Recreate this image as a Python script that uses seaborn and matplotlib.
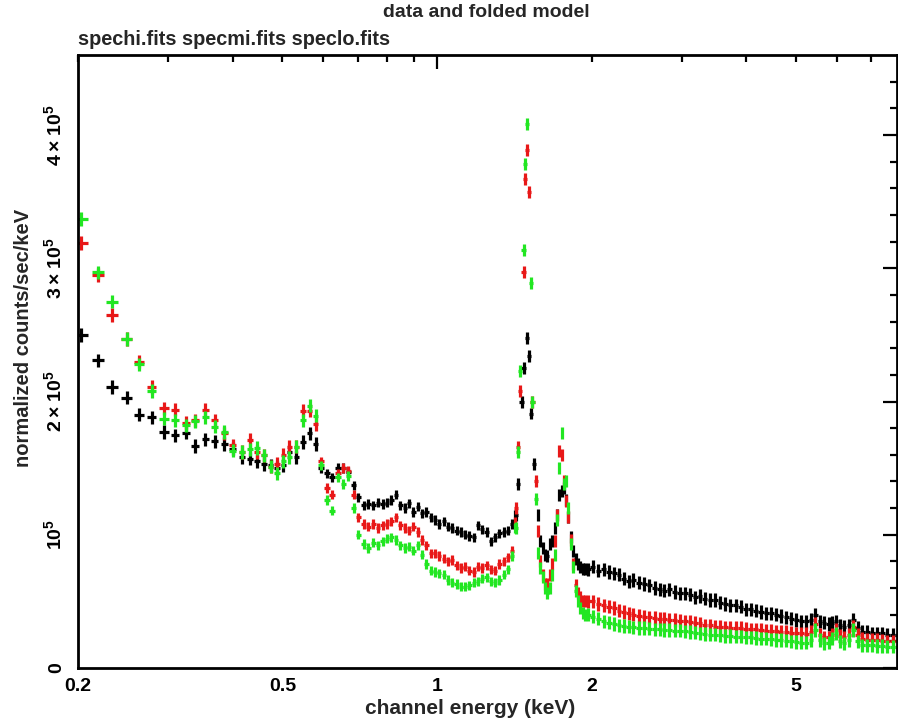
import numpy as np
import pandas as pd
import matplotlib
matplotlib.use("Agg")
import matplotlib.pyplot as plt
import seaborn as sns
from matplotlib.ticker import FixedLocator, FuncFormatter

# Values in units of 1e5 counts/sec/keV.
# spechi = black, specmi = red, speclo = green

# soft band, wide bins
E_SOFT = [0.203, 0.2185, 0.2326, 0.249, 0.263, 0.278, 0.294, 0.309, 0.324, 0.338,
          0.354, 0.369, 0.385, 0.400, 0.417, 0.432, 0.446, 0.460, 0.474, 0.488,
          0.502, 0.516, 0.532, 0.548, 0.565, 0.580]
HI_SOFT = [2.50, 2.31, 2.11, 2.03, 1.90, 1.88, 1.77, 1.745, 1.765, 1.665,
           1.715, 1.70, 1.68, 1.645, 1.58, 1.57, 1.55, 1.53, 1.52, 1.50,
           1.52, 1.62, 1.58, 1.695, 1.76, 1.68]
MI_SOFT = [3.19, 2.95, 2.65, 2.47, 2.30, 2.11, 1.95, 1.94, 1.84, 1.86,
           1.94, 1.86, 1.76, 1.67, 1.62, 1.71, 1.62, 1.595, 1.51, 1.53,
           1.60, 1.66, 1.66, 1.93, 1.93, 1.83]
LO_SOFT = [3.37, 2.97, 2.75, 2.47, 2.28, 2.08, 1.87, 1.86, 1.82, 1.85,
           1.88, 1.81, 1.77, 1.63, 1.62, 1.64, 1.65, 1.595, 1.51, 1.46,
           1.55, 1.58, 1.66, 1.86, 1.97, 1.895]

# 0.6 - 1.4 keV
E_MID = [0.594, 0.610, 0.625, 0.641, 0.657, 0.672, 0.688, 0.703, 0.719, 0.735,
         0.751, 0.767, 0.783, 0.799, 0.815, 0.831, 0.848, 0.865, 0.882, 0.899,
         0.917, 0.935, 0.953, 0.972, 0.991, 1.010, 1.030, 1.050, 1.070, 1.091,
         1.112, 1.134, 1.156, 1.178, 1.201, 1.224, 1.248, 1.272, 1.297, 1.322,
         1.348, 1.374, 1.400, 1.418]
HI_MID = [1.50, 1.46, 1.43, 1.50, 1.50, 1.47, 1.37, 1.28, 1.22, 1.23,
          1.22, 1.24, 1.23, 1.24, 1.26, 1.30, 1.22, 1.20, 1.235, 1.17,
          1.21, 1.16, 1.17, 1.13, 1.11, 1.08, 1.10, 1.06, 1.05, 1.03,
          1.02, 1.00, 0.99, 0.98, 1.07, 1.04, 1.02, 0.95, 0.98, 1.01,
          1.02, 1.03, 1.08, 1.15]
MI_MID = [1.55, 1.35, 1.30, 1.46, 1.50, 1.48, 1.30, 1.13, 1.08, 1.06,
          1.08, 1.05, 1.07, 1.08, 1.10, 1.13, 1.07, 1.05, 1.03, 1.06,
          1.02, 0.96, 0.92, 0.86, 0.86, 0.84, 0.82, 0.80, 0.81, 0.77,
          0.75, 0.76, 0.73, 0.72, 0.76, 0.75, 0.77, 0.74, 0.73, 0.78,
          0.80, 0.83, 0.88, 1.10]
LO_MID = [1.52, 1.26, 1.18, 1.43, 1.38, 1.44, 1.20, 1.00, 0.93, 0.90,
          0.94, 0.92, 0.95, 0.97, 0.98, 0.96, 0.92, 0.90, 0.91, 0.88,
          0.92, 0.85, 0.78, 0.73, 0.72, 0.71, 0.70, 0.66, 0.64, 0.63,
          0.61, 0.61, 0.62, 0.64, 0.65, 0.67, 0.68, 0.65, 0.64, 0.66,
          0.70, 0.74, 0.84, 1.05]

# Al K line
E_AL = [1.425, 1.437, 1.449, 1.461, 1.473, 1.485, 1.497, 1.509, 1.521, 1.533, 1.545, 1.557]
HI_AL = [1.15, 1.38, np.nan, 2.00, 2.25, np.nan, 2.48, 2.34, 1.91, np.nan, 1.53, np.nan]
MI_AL = [1.20, 1.66, 2.08, np.nan, 2.97, 3.67, 3.89, 3.57, np.nan, 2.00, np.nan, 1.40]
LO_AL = [1.05, 1.62, 2.23, np.nan, 3.14, 3.78, 4.08, np.nan, 2.89, 2.00, np.nan, 1.27]

# Si K line
E_SI = [1.572, 1.588, 1.605, 1.622, 1.640, 1.658, 1.676, 1.694, 1.712, 1.730,
        1.748, 1.766, 1.784, 1.802, 1.820, 1.840, 1.860, 1.880, 1.900, 1.922, 1.944]
HI_SI = [1.15, 0.95, 0.90, 0.85, 0.84, 0.93, 0.95, 1.05, 1.15, 1.30,
         1.33, 1.35, 1.26, 1.13, 0.98, 0.88, 0.82, 0.78, 0.76, 0.74, 0.74]
MI_SI = [1.03, 0.80, 0.70, 0.63, 0.63, 0.70, 0.78, 0.95, 1.15, 1.63,
         1.60, 1.40, 1.25, 1.13, 0.96, 0.78, 0.62, 0.56, 0.53, 0.50, 0.50]
LO_SI = [0.86, 0.75, 0.68, 0.60, 0.56, 0.60, 0.70, 0.85, 1.11, 1.50,
         1.76, 1.38, 1.40, 1.20, 0.93, 0.76, 0.58, 0.50, 0.45, 0.41, 0.40]

# hard band, narrow bins
E_HARD = [1.97, 2.01, 2.06, 2.11, 2.16, 2.21, 2.26, 2.31, 2.36, 2.41,
          2.47, 2.53, 2.59, 2.65, 2.71, 2.77, 2.83, 2.90, 2.97, 3.04,
          3.11, 3.18, 3.25, 3.32, 3.40, 3.48, 3.56, 3.64, 3.72, 3.81,
          3.90, 3.99, 4.08, 4.17, 4.27, 4.37, 4.47, 4.57, 4.67, 4.78,
          4.89, 5.00, 5.11, 5.23, 5.34, 5.45, 5.56, 5.67, 5.78, 5.88,
          5.98, 6.09, 6.20, 6.33, 6.46, 6.59, 6.73, 6.88, 7.03, 7.19,
          7.35, 7.52, 7.70, 7.88]
HI_HARD = [0.74, 0.76, 0.73, 0.74, 0.72, 0.71, 0.70, 0.67, 0.65, 0.66,
           0.64, 0.63, 0.62, 0.60, 0.59, 0.58, 0.59, 0.57, 0.56, 0.56,
           0.55, 0.53, 0.54, 0.52, 0.51, 0.51, 0.49, 0.48, 0.47, 0.47,
           0.46, 0.44, 0.44, 0.43, 0.42, 0.41, 0.41, 0.40, 0.39, 0.38,
           0.37, 0.36, 0.35, 0.35, 0.36, 0.40, 0.35, 0.34, 0.33, 0.34,
           0.35, 0.32, 0.31, 0.32, 0.36, 0.30, 0.27, 0.27, 0.26, 0.26,
           0.26, 0.25, 0.25, 0.25]
MI_HARD = [0.50, 0.50, 0.48, 0.47, 0.46, 0.45, 0.43, 0.42, 0.41, 0.40,
           0.39, 0.385, 0.38, 0.375, 0.37, 0.37, 0.36, 0.36, 0.355, 0.35,
           0.345, 0.34, 0.335, 0.32, 0.32, 0.31, 0.31, 0.305, 0.30, 0.30,
           0.30, 0.295, 0.29, 0.29, 0.285, 0.28, 0.28, 0.275, 0.27, 0.27,
           0.265, 0.26, 0.26, 0.255, 0.27, 0.33, 0.25, 0.23, 0.23, 0.25,
           0.285, 0.24, 0.23, 0.25, 0.31, 0.25, 0.22, 0.21, 0.21, 0.21,
           0.205, 0.20, 0.20, 0.20]
LO_HARD = [0.40, 0.385, 0.37, 0.35, 0.34, 0.33, 0.32, 0.315, 0.31, 0.305,
           0.30, 0.30, 0.295, 0.29, 0.29, 0.285, 0.285, 0.28, 0.28, 0.275,
           0.27, 0.265, 0.26, 0.255, 0.25, 0.25, 0.245, 0.24, 0.24, 0.235,
           0.235, 0.23, 0.23, 0.225, 0.22, 0.22, 0.215, 0.21, 0.21, 0.205,
           0.20, 0.195, 0.19, 0.19, 0.21, 0.285, 0.21, 0.185, 0.19, 0.22,
           0.26, 0.20, 0.185, 0.21, 0.285, 0.20, 0.17, 0.17, 0.17, 0.165,
           0.165, 0.16, 0.16, 0.16]

# error half-heights (1e5 units) and how much of each bin the horizontal arm covers
REGIONS = {
    "soft": (E_SOFT, HI_SOFT, MI_SOFT, LO_SOFT, 0.05, 0.8),
    "mid": (E_MID, HI_MID, MI_MID, LO_MID, 0.035, 1.0),
    "al": (E_AL, HI_AL, MI_AL, LO_AL, 0.045, 2.4),
    "si": (E_SI, HI_SI, MI_SI, LO_SI, 0.045, 0.9),
    "hard": (E_HARD, HI_HARD, MI_HARD, LO_HARD, 0.05, 1.0),
}
FILES = ["spechi.fits", "specmi.fits", "speclo.fits"]
COLORS = {"spechi.fits": "#000000", "specmi.fits": "#e81818", "speclo.fits": "#22e622"}

rows = []
for name, (en, hi, mi, lo, yerr, frac) in REGIONS.items():
    en = np.asarray(en)
    step = np.gradient(np.log10(en))
    half = 0.5 * frac * step
    xlo = en - en * 10 ** (-half)
    xhi = en * 10 ** half - en
    for f, vals in zip(FILES, (hi, mi, lo)):
        for e, v, a, b in zip(en, vals, xlo, xhi):
            rows.append({"file": f, "energy": e, "rate": v * 1e5,
                         "xlo": a, "xhi": b, "yerr": yerr * 1e5})
df = pd.DataFrame(rows)

sns.set_theme(style="white")
plt.rcParams["font.family"] = ["Liberation Sans", "DejaVu Sans"]
plt.rcParams["font.weight"] = "bold"
plt.rcParams["mathtext.fontset"] = "custom"
plt.rcParams["mathtext.rm"] = "Liberation Sans:bold"
plt.rcParams["mathtext.bf"] = "Liberation Sans:bold"
plt.rcParams["mathtext.default"] = "bf"

fig = plt.figure(figsize=(8.98, 7.24), dpi=100)
ax = fig.add_axes([0.0869, 0.0773, 0.9121, 0.8467])

for f in FILES:
    d = df[df["file"] == f]
    ax.errorbar(d["energy"], d["rate"], xerr=[d["xlo"], d["xhi"]], yerr=d["yerr"],
                fmt="none", ecolor=COLORS[f], elinewidth=2.3, capsize=0)

ax.set_xscale("log")
ax.set_xlim(0.2, 7.86)
ax.set_ylim(0, 4.6e5)

x_labelled = {0.2: "0.2", 0.5: "0.5", 1.0: "1", 2.0: "2", 5.0: "5"}
ax.xaxis.set_major_locator(FixedLocator([1.0]))
ax.xaxis.set_minor_locator(FixedLocator([0.2, 0.3, 0.4, 0.5, 0.6, 0.7, 0.8, 0.9,
                                         2, 3, 4, 5, 6, 7]))
fmt = FuncFormatter(lambda v, p: x_labelled.get(round(v, 3), ""))
ax.xaxis.set_major_formatter(fmt)
ax.xaxis.set_minor_formatter(fmt)

y_labels = ["0", r"$10^5$", r"$2\times10^5$", r"$3\times10^5$", r"$4\times10^5$"]
ax.set_yticks([0, 1e5, 2e5, 3e5, 4e5])
ax.set_yticklabels(y_labels, rotation=90, va="center")
ax.yaxis.set_minor_locator(FixedLocator(np.arange(0, 4.6e5, 2e4)))

ax.tick_params(which="both", direction="in", top=True, right=True,
               width=1.6, colors="black", labelsize=14)
ax.tick_params(which="major", length=10, pad=7)
ax.tick_params(which="minor", length=5, pad=7)
ax.tick_params(axis="y", which="both", pad=9)
for s in ax.spines.values():
    s.set_linewidth(2)
    s.set_color("black")

fig.text(0.542, 0.983, "data and folded model", ha="center", va="center", fontsize=14)
fig.text(0.087, 0.945, "spechi.fits specmi.fits speclo.fits", ha="left", va="center",
         fontsize=14.3)
fig.text(0.523, 0.022, "channel energy (keV)", ha="center", va="center", fontsize=15)
fig.text(0.026, 0.533, "normalized counts/sec/keV", ha="center", va="center",
         rotation=90, fontsize=14.5)

fig.savefig("out.png", dpi=100, facecolor="white")
